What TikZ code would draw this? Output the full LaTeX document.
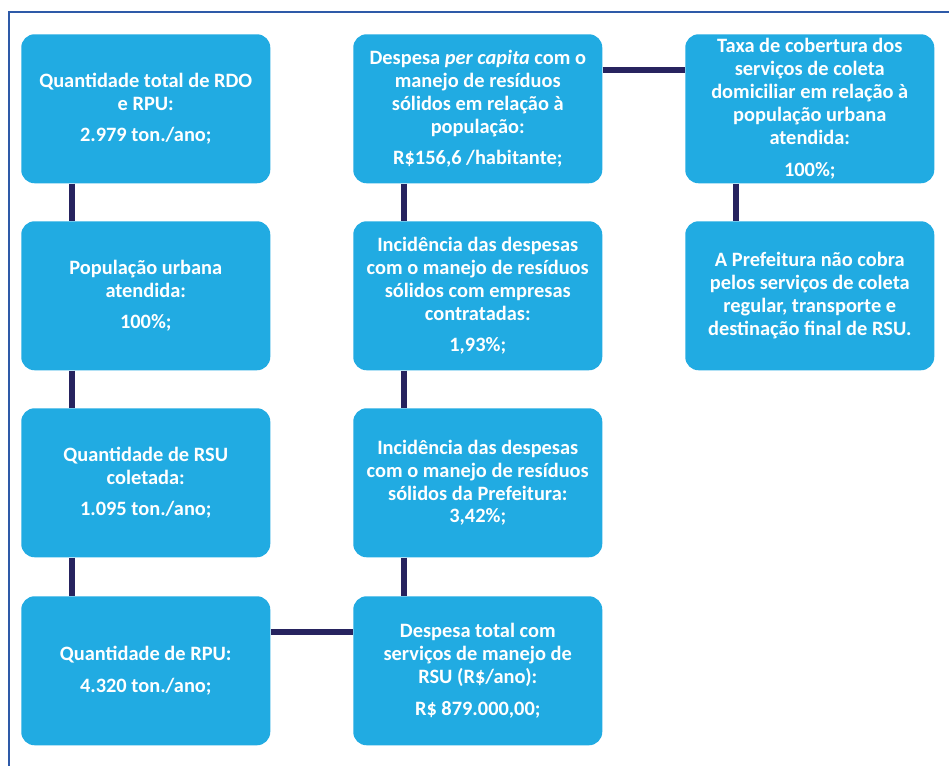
\documentclass[tikz,border=0pt]{standalone}
\usepackage{fontspec}
\setmainfont{Carlito}
\usetikzlibrary{calc}
\definecolor{boxblue}{RGB}{33,171,226}
\definecolor{linknavy}{RGB}{39,35,95}
\definecolor{frameblue}{RGB}{46,90,168}
\begin{document}
\begin{tikzpicture}[x=0.75pt, y=-0.75pt,
    infobox/.style={fill=boxblue, rounded corners=10pt, minimum width=186.75pt, minimum height=111.75pt,
        text=white, font=\bfseries\fontsize{15.3}{17.2}\selectfont, align=center, anchor=north west, inner sep=0pt},
    link/.style={linknavy, line width=4.5pt}]
    \useasboundingbox (0,0) rectangle (949,765);
    \draw[frameblue, line width=1.5pt] (980,12) -- (9,12) -- (9,790);
    % first column
    \node[infobox] (qtotal) at (21,34) {Quantidade total de RDO\\e RPU:\\[6.5pt]2.979 ton./ano;};
    \node[infobox] (popurb) at (21,221) {População urbana\\atendida:\\[6.5pt]100\%;};
    \node[infobox] (qrsu) at (21,408) {Quantidade de RSU\\coletada:\\[6.5pt]1.095 ton./ano;};
    \node[infobox] (qrpu) at (21,596) {Quantidade de RPU:\\[6.5pt]4.320 ton./ano;};
    % second column
    \node[infobox] (percapita) at (353,34) {Despesa \textit{per capita} com o\\manejo de resíduos\\sólidos em relação à\\população:\\[6.5pt]R\$156,6 /habitante;};
    \node[infobox] (empresas) at (353,221) {Incidência das despesas\\com o manejo de resíduos\\sólidos com empresas\\contratadas:\\[6.5pt]1,93\%;};
    \node[infobox] (prefeitura) at (353,408) {Incidência das despesas\\com o manejo de resíduos\\sólidos da Prefeitura:\\3,42\%;};
    \node[infobox] (desptotal) at (353,596) {Despesa total com\\serviços de manejo de\\RSU (R\$/ano):\\[6.5pt]R\$ 879.000,00;};
    % third column
    \node[infobox] (cobertura) at (685,34) {Taxa de cobertura dos\\serviços de coleta\\domiciliar em relação à\\população urbana\\atendida:\\[6.5pt]100\%;};
    \node[infobox] (cobra) at (685,221) {A Prefeitura não cobra\\pelos serviços de coleta\\regular, transporte e\\destinação final de RSU.};
    % links
    \draw[link] ($(qtotal.south west)+(51,0)$) -- ($(popurb.north west)+(51,0)$);
    \draw[link] ($(popurb.south west)+(51,0)$) -- ($(qrsu.north west)+(51,0)$);
    \draw[link] ($(qrsu.south west)+(51,0)$) -- ($(qrpu.north west)+(51,0)$);
    \draw[link] ($(percapita.south west)+(51,0)$) -- ($(empresas.north west)+(51,0)$);
    \draw[link] ($(empresas.south west)+(51,0)$) -- ($(prefeitura.north west)+(51,0)$);
    \draw[link] ($(prefeitura.south west)+(51,0)$) -- ($(desptotal.north west)+(51,0)$);
    \draw[link] ($(cobertura.south west)+(51,0)$) -- ($(cobra.north west)+(51,0)$);
    \draw[link] ($(percapita.north east)+(0,36)$) -- ($(cobertura.north west)+(0,36)$);
    \draw[link] ($(qrpu.north east)+(0,36)$) -- ($(desptotal.north west)+(0,36)$);
\end{tikzpicture}
\end{document}
